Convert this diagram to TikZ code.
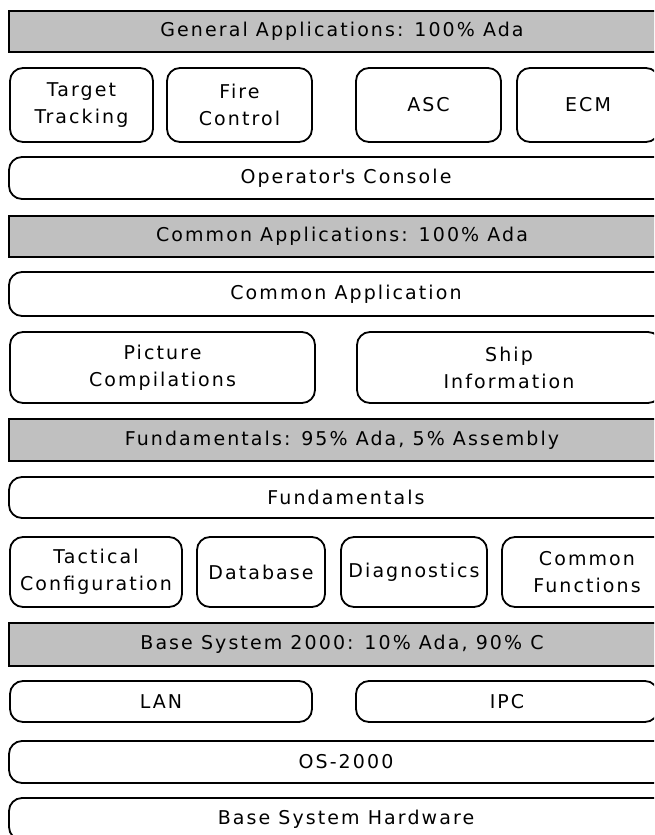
\documentclass[tikz,border=0pt]{standalone}
\usepackage{fontspec}
\setmainfont[LetterSpace=11]{DejaVu Sans}
\definecolor{bargray}{HTML}{C0C0C0}
\begin{document}
\begin{tikzpicture}[x=1pt,y=-1pt,
  every node/.style={font=\fontsize{19}{27}\selectfont, inner sep=0pt, align=center},
  layerbar/.style={draw, fill=bargray, line width=1.8pt, minimum width=666pt, minimum height=41pt},
  module/.style={draw, fill=white, line width=1.8pt, rounded corners=13pt, minimum height=#1},
  module/.default=42pt]
\useasboundingbox (0,0) rectangle (654,835);
\clip (0,0) rectangle (654,835);

% General applications layer
\node[layerbar] (gen) at (342,31.5) {General Applications: 100\% Ada};
\node[module=74pt, minimum width=143pt] (tt) at (81.5,105) {Target\\Tracking};
\node[module=74pt, minimum width=145pt] (fc) at (239.5,105) {Fire\\Control};
\node[module=74pt, minimum width=145pt] (asc) at (428.5,105) {ASC};
\node[module=74pt, minimum width=142pt] (ecm) at (588,105) {ECM};
\node[module, minimum width=674pt] (opc) at (346,178) {Operator\textquotesingle s Console};

% Common applications layer
\node[layerbar] (com) at (342,236.5) {Common Applications: 100\% Ada};
\node[module=44pt, minimum width=674pt] (capp) at (346,294) {Common Application};
\node[module=71pt, minimum width=305pt] (pic) at (162.5,367.5) {Picture\\Compilations};
\node[module=71pt, minimum width=304pt] (ship) at (509,367.5) {Ship\\Information};

% Fundamentals layer
\node[layerbar, minimum height=42pt] (fun) at (342,440) {Fundamentals: 95\% Ada, 5\% Assembly};
\node[module=41pt, minimum width=674pt] (fund) at (346,497.5) {Fundamentals};
\node[module=70pt, minimum width=172pt] (tac) at (96,572) {Tactical\\Configuration};
\node[module=70pt, minimum width=128pt] (db) at (261,572) {Database};
\node[module=70pt, minimum width=146pt] (diag) at (414,572) {Diagnostics};
\node[module=70pt, minimum width=170pt] (cf) at (587,572) {Common\\Functions};

% Base system layer
\node[layerbar, minimum height=43pt] (base) at (342,644.5) {Base System 2000: 10\% Ada, 90\% C};
\node[module=41pt, minimum width=302pt] (lan) at (161,701.5) {LAN};
\node[module=41pt, minimum width=302pt] (ipc) at (507,701.5) {IPC};
\node[module, minimum width=674pt] (os) at (346,762) {OS-2000};
\node[module, minimum width=674pt] (hw) at (346,819) {Base System Hardware};
\end{tikzpicture}
\end{document}
